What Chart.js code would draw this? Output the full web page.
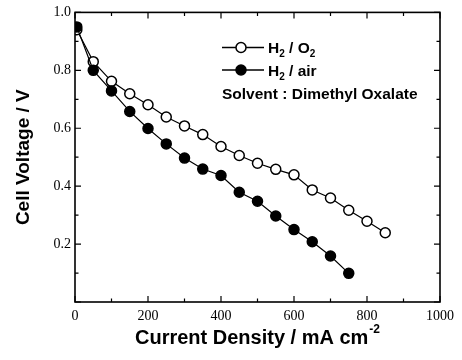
<!DOCTYPE html>
<html>
<head>
<meta charset="utf-8">
<script src="https://cdn.jsdelivr.net/npm/chart.js@4/dist/chart.umd.min.js"></script>
<style>
  html, body { margin: 0; padding: 0; background: #fff; }
  canvas { display: block; }
</style>
</head>
<body>
<canvas id="c" width="462" height="360"></canvas>
<script>
// ---- data ----
const currentO2 = [5, 50, 100, 150, 200, 250, 300, 350, 400, 450, 500, 550, 600, 650, 700, 750, 800, 850];
const voltageO2 = [0.94, 0.83, 0.762, 0.719, 0.681, 0.639, 0.608, 0.578, 0.537, 0.506, 0.479, 0.458, 0.439, 0.387, 0.359, 0.317, 0.279, 0.239];
const currentAir = [5, 50, 100, 150, 200, 250, 300, 350, 400, 450, 500, 550, 600, 650, 700, 750];
const voltageAir = [0.95, 0.80, 0.729, 0.658, 0.599, 0.546, 0.497, 0.459, 0.437, 0.379, 0.348, 0.297, 0.250, 0.208, 0.159, 0.099];
const xTickLabels = ['0', '200', '400', '600', '800', '1000'];
const yTickLabels = ['0.2', '0.4', '0.6', '0.8', '1.0'];
const seriesNames = [['H', '2', ' / O', '2'], ['H', '2', ' / air']];
const noteText = 'Solvent : Dimethyl Oxalate';
const xTitle = ['Current Density / mA cm', '-2'];
const yTitle = 'Cell Voltage / V';

const toPoints = (xs, ys) => xs.map((x, i) => ({ x: x, y: ys[i] }));

const SANS = '"Liberation Sans", Arial, sans-serif';
const SERIF = '"Liberation Serif", "Times New Roman", serif';

// draws frame, inward ticks, titles and the inset legend
const decor = {
  id: 'decor',
  afterDraw(chart) {
    const ctx = chart.ctx;
    const a = chart.chartArea;
    const xs = chart.scales.x, ys = chart.scales.y;
    ctx.save();
    ctx.strokeStyle = '#000';
    ctx.fillStyle = '#000';
    // frame
    ctx.lineWidth = 1.6;
    ctx.strokeRect(a.left, a.top, a.right - a.left, a.bottom - a.top);
    // ticks (inward, mirrored)
    ctx.lineWidth = 1.2;
    ctx.beginPath();
    xs.ticks.forEach(t => {
      const p = xs.getPixelForValue(t.value);
      const major = Math.round(t.value) % 200 === 0;
      const len = major ? 6 : 3.5;
      ctx.moveTo(p, a.bottom); ctx.lineTo(p, a.bottom - len);
      ctx.moveTo(p, a.top); ctx.lineTo(p, a.top + len);
    });
    ys.ticks.forEach(t => {
      const p = ys.getPixelForValue(t.value);
      const major = Math.round(t.value * 10) % 2 === 0;
      const len = major ? 6 : 3.5;
      ctx.moveTo(a.left, p); ctx.lineTo(a.left + len, p);
      ctx.moveTo(a.right, p); ctx.lineTo(a.right - len, p);
    });
    ctx.stroke();

    // x title with superscript
    const cx = (a.left + a.right) / 2;
    ctx.font = 'bold 20px ' + SANS;
    const w1 = ctx.measureText(xTitle[0]).width;
    ctx.font = 'bold 12px ' + SANS;
    const w2 = ctx.measureText(xTitle[1]).width;
    let sx = cx - (w1 + w2 + 1) / 2;
    ctx.textBaseline = 'alphabetic';
    ctx.textAlign = 'left';
    ctx.font = 'bold 20px ' + SANS;
    ctx.fillText(xTitle[0], sx, 344);
    ctx.font = 'bold 12px ' + SANS;
    ctx.fillText(xTitle[1], sx + w1 + 1, 333);

    // y title rotated
    ctx.save();
    ctx.translate(24, (a.top + a.bottom) / 2);
    ctx.rotate(-Math.PI / 2);
    ctx.textAlign = 'center';
    ctx.textBaseline = 'middle';
    ctx.font = 'bold 19px ' + SANS;
    ctx.fillText(yTitle, 0, 0);
    ctx.restore();

    // legend
    const rows = [47.5, 70];
    const fills = ['#fff', '#000'];
    rows.forEach((ry, i) => {
      ctx.lineWidth = 1.3;
      ctx.beginPath();
      ctx.moveTo(222, ry); ctx.lineTo(264, ry);
      ctx.stroke();
      ctx.beginPath();
      ctx.arc(241, ry, 5, 0, Math.PI * 2);
      ctx.fillStyle = fills[i];
      ctx.fill();
      ctx.lineWidth = 1.5;
      ctx.stroke();
      ctx.fillStyle = '#000';
      let tx = 268;
      const base = ry + 5.5;
      seriesNames[i].forEach((part, k) => {
        const sub = k % 2 === 1;
        ctx.font = sub ? 'bold 10px ' + SANS : 'bold 15.5px ' + SANS;
        ctx.textAlign = 'left';
        ctx.textBaseline = 'alphabetic';
        ctx.fillText(part, tx, sub ? base + 4 : base);
        tx += ctx.measureText(part).width;
      });
    });
    ctx.font = 'bold 15.5px ' + SANS;
    ctx.textAlign = 'left';
    ctx.textBaseline = 'alphabetic';
    ctx.fillText(noteText, 222, 99);
    ctx.restore();
  }
};

new Chart(document.getElementById('c'), {
  type: 'scatter',
  data: {
    datasets: [
      {
        label: 'H2 / O2',
        data: toPoints(currentO2, voltageO2),
        showLine: true,
        borderColor: '#000',
        borderWidth: 1.2,
        pointRadius: 5,
        pointBorderWidth: 1.5,
        pointBackgroundColor: '#fff',
        pointBorderColor: '#000',
        order: 1
      },
      {
        label: 'H2 / air',
        data: toPoints(currentAir, voltageAir),
        showLine: true,
        borderColor: '#000',
        borderWidth: 1.2,
        pointRadius: 5,
        pointBorderWidth: 1.5,
        pointBackgroundColor: '#000',
        pointBorderColor: '#000',
        order: 0
      }
    ]
  },
  options: {
    responsive: false,
    animation: false,
    devicePixelRatio: 1,
    layout: { padding: { top: 11, right: 22, left: 0, bottom: 0 } },
    plugins: { legend: { display: false }, tooltip: { enabled: false } },
    scales: {
      x: {
        type: 'linear',
        min: 0, max: 1000,
        grid: { display: false, drawTicks: false },
        border: { display: false },
        ticks: {
          stepSize: 100,
          padding: 6,
          color: '#000',
          maxRotation: 0,
          autoSkip: false,
          font: { family: SERIF, size: 14 },
          callback: v => xTickLabels.includes(String(Math.round(v))) ? String(Math.round(v)) : ''
        },
        afterFit: s => { s.height = 58; }
      },
      y: {
        type: 'linear',
        min: 0, max: 1.0,
        grid: { display: false, drawTicks: false },
        border: { display: false },
        ticks: {
          stepSize: 0.1,
          padding: 4,
          color: '#000',
          autoSkip: false,
          font: { family: SERIF, size: 14 },
          callback: v => { const s = (Math.round(v * 10) / 10).toFixed(1); return yTickLabels.includes(s) ? s : ''; }
        },
        afterFit: s => { s.width = 75; }
      }
    }
  },
  plugins: [decor]
});
</script>
</body>
</html>
